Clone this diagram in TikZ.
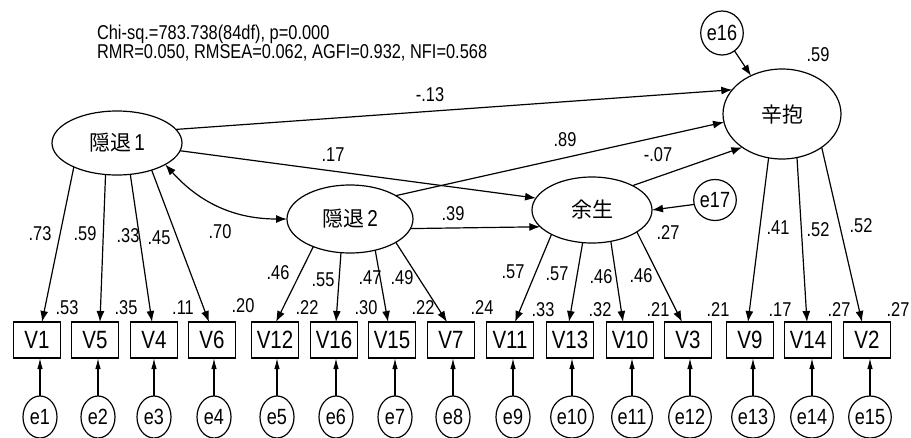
\documentclass[tikz,border=0pt]{standalone}
\usepackage{fontspec}
\usepackage{graphicx}
\setmainfont{Liberation Sans}
\newfontfamily\cjk{Noto Sans CJK JP}
\usetikzlibrary{shapes.geometric,arrows.meta}
\newcommand{\sq}[1]{\scalebox{0.82}[1]{#1}}
\newcommand{\numf}{\fontsize{20}{20}\selectfont}
\newcommand{\boxf}{\fontsize{25}{25}\selectfont}
\newcommand{\errf}{\fontsize{22}{22}\selectfont}
\newcommand{\latf}{\fontsize{21}{21}\selectfont}
\tikzset{
  every node/.style={outer sep=0pt},
  lat/.style={ellipse, draw, line width=1.2pt, inner sep=0pt, font=\latf},
  obs/.style={rectangle, draw, line width=1.2pt, minimum width=47pt, minimum height=36pt, inner sep=0pt, font=\boxf},
  err/.style={ellipse, draw, line width=1.2pt, minimum width=34pt, minimum height=42pt, inner sep=0pt, font=\errf},
  num/.style={inner sep=0pt, font=\numf},
  arr/.style={line width=1.2pt, -{Latex[length=11pt,width=8pt]}},
  earr/.style={line width=1.2pt, -{Latex[length=11pt,width=5.5pt]}},
  cov/.style={line width=1.2pt, {Latex[length=11pt,width=8pt]}-{Latex[length=11pt,width=8pt]}}
}
\begin{document}
\begin{tikzpicture}[x=1pt,y=-1pt]
\useasboundingbox (0,0) rectangle (911,437);
% fit text
\node[num, anchor=west, font=\fontsize{20}{20}\selectfont] (fit1) at (97,34) {\sq{Chi-sq.=783.738(84df), p=0.000}};
\node[num, anchor=west, font=\fontsize{20}{20}\selectfont] (fit2) at (97,53) {\sq{RMR=0.050, RMSEA=0.062, AGFI=0.932, NFI=0.568}};
% latent variables
\node[lat, minimum width=130pt, minimum height=64pt] (L1) at (117,143) {{\cjk 隠退}\hspace{3pt}\sq{\fontsize{23}{23}\selectfont 1}};
\node[lat, minimum width=126pt, minimum height=68pt] (L2) at (350,219) {{\cjk 隠退}\hspace{3pt}\sq{\fontsize{23}{23}\selectfont 2}};
\node[lat, minimum width=120pt, minimum height=66pt] (Y) at (592,210) {{\cjk 余生}};
\node[lat, minimum width=118pt, minimum height=90pt] (F) at (782,114) {{\cjk 辛抱}};
\node[err, minimum width=40pt, minimum height=44pt] (e16) at (722,33) {\sq{e16}};
\node[err, minimum width=36pt, minimum height=41pt] (e17) at (715,200) {\sq{e17}};
% observed variables
\foreach \n/\x in {V1/37,V5/95,V4/154,V6/212,V12/275,V16/334,V15/392,V7/451,V11/510,V13/570,V10/630,V3/688,V9/750,V14/808,V2/867}
  \node[obs] (\n) at (\x,340) {\sq{\n}};
% error terms
\foreach \e/\x/\v in {e1/40/V1,e2/98/V5,e3/154/V4,e4/214/V6,e5/277/V12,e6/336/V16,e7/395/V15,e8/453/V7,e9/513/V11,e10/572/V13,e11/632/V10,e12/690/V3,e13/753/V9,e14/812/V14,e15/870/V2}{
  \node[err] (\e) at (\x,417) {\sq{\e}};
  \draw[earr] (\e) -- (\e |- \v.south);
}
% loadings
\foreach \l/\a/\v/\s in {L1/209/V1/5,L1/250/V5/5,L1/293/V4/-2,L1/322/V6/-3,
  L2/217/V12/1,L2/255/V16/2,L2/309/V15/-4,L2/333/V7/-4,
  Y/211/V11/5,Y/254/V13/-1,Y/301/V10/-7,Y/334/V3/-6,
  F/253/V9/-2,F/289/V14/-1,F/320/V2/-5}
  \draw[arr] (\l.\a) -- ([xshift=\s pt]\v.north);
% structural paths
\draw[arr] (L1.13) -- (F.154);
\draw[arr] (L1.353) -- (Y.168);
\draw[arr] (L2.27) -- (F.188);
\draw[arr] (L2.351) -- (Y.198);
\draw[arr] (Y.31) -- (F.220);
\draw[arr] (e17.192) -- (Y.east);
\draw[arr] (e16.305) -- (F.129);
\draw[cov] (L1.336) to[out=-48,in=180] (L2.west);
% path labels
\foreach \t/\x/\y/\nm in {-.13/430/95/p1,.17/333/155/p2,.89/565/140/p3,-.07/658/155/p4,.39/453/214/p5,.70/220/232/p6,.27/668/233/p7,.59/818/55/p8,
  .73/40/234/a1,.59/85/234/a2,.33/128/236/a3,.45/159/238/a4,.46/278/273/a5,.55/323/280/a6,.47/370/278/a7,.49/402/278/a8,
  .57/513/272/a9,.57/557/274/a10,.46/601/277/a11,.46/641/276/a12,.41/778/228/a13,.52/818/230/a14,.52/861/226/a15,
  .53/67/308/r1,.35/126/308/r2,.11/183/308/r3,.20/243/306/r4,.22/307/308/r5,.30/366/308/r6,.22/423/308/r7,.24/482/308/r8,
  .33/543/310/r9,.32/600/310/r10,.21/658/310/r11,.21/718/310/r12,.17/780/310/r13,.27/839/310/r14,.27/898/310/r15}
  \node[num] (\nm) at (\x,\y) {\sq{\t}};
\end{tikzpicture}
\end{document}
